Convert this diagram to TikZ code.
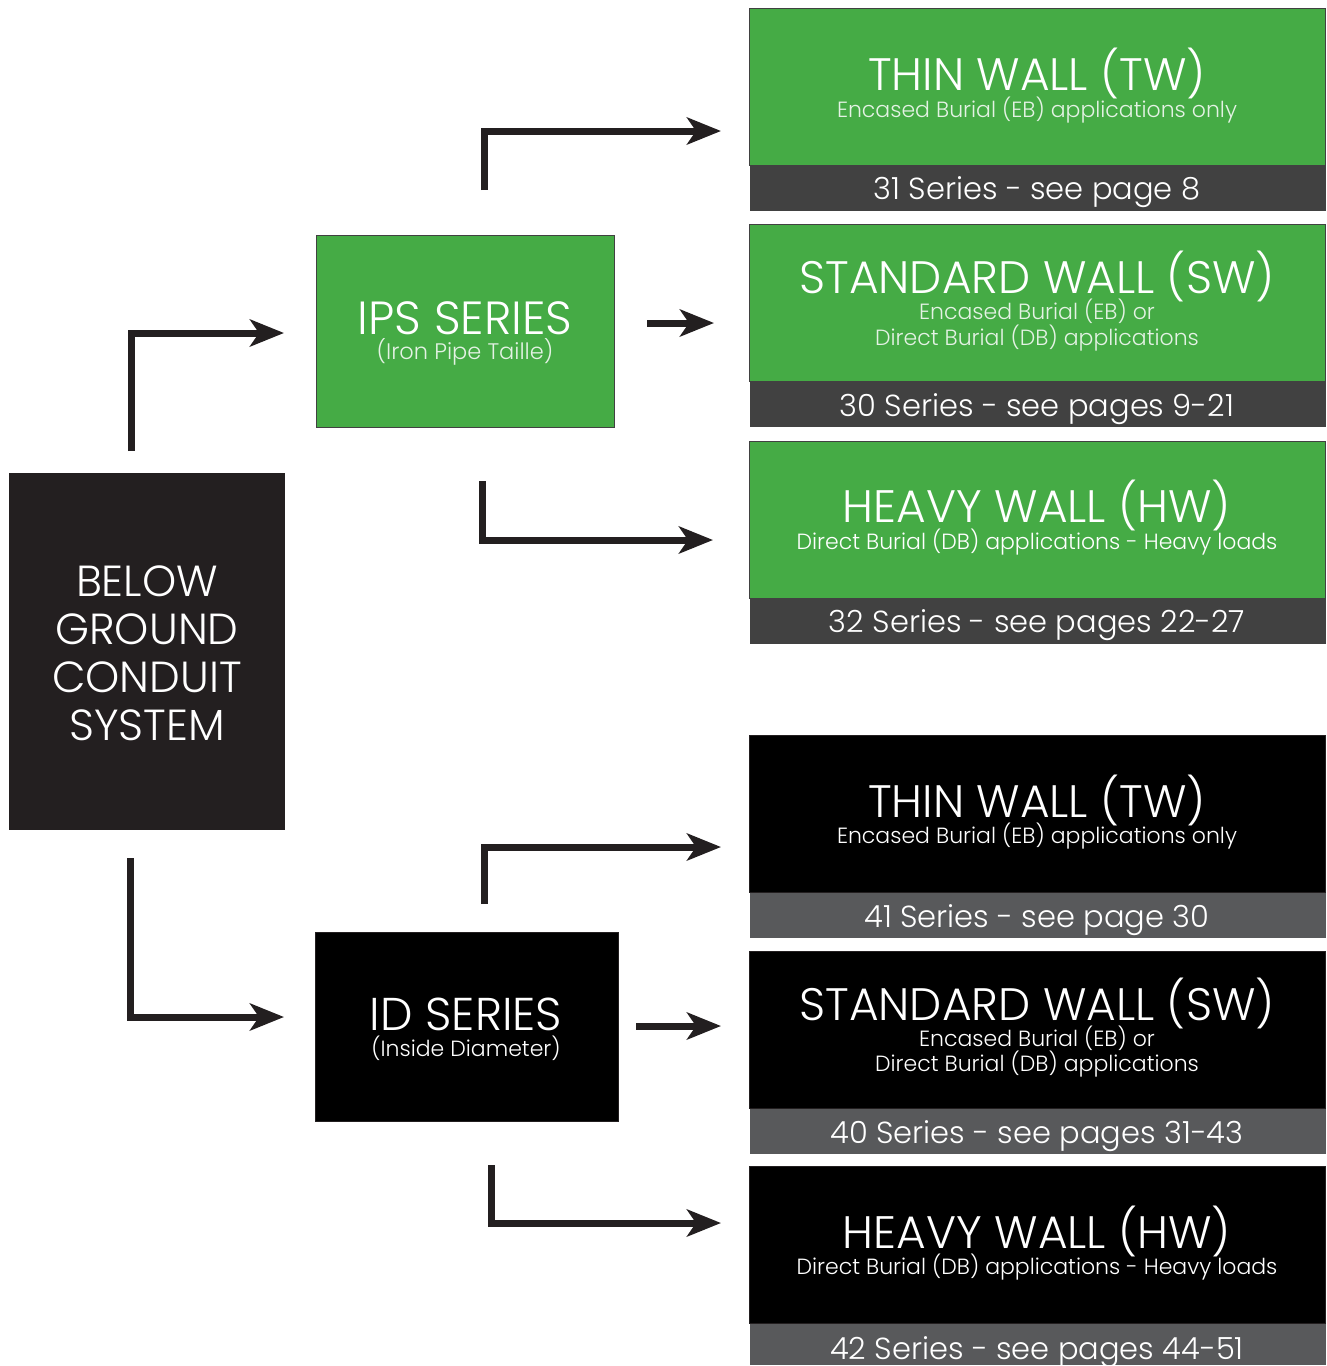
\documentclass[tikz,border=0pt]{standalone}
\usepackage{fontspec}
\setmainfont{Poppins Light}
\usetikzlibrary{arrows.meta,positioning}
\definecolor{pgreen}{HTML}{45AB45}
\definecolor{gband}{HTML}{414141}
\definecolor{kband}{HTML}{58595B}
\definecolor{ink}{HTML}{231F20}
\definecolor{subg}{HTML}{E4F2E4}
\tikzset{
  x=1pt, y=-1pt,
  box/.style={anchor=north west, minimum width=576pt, minimum height=157pt, inner sep=0pt},
  gbox/.style={box, fill=pgreen, draw=gband, line width=1pt},
  kbox/.style={box, fill=black, draw=ink, line width=1pt},
  band/.style={anchor=north, minimum width=576pt, minimum height=45pt, inner sep=0pt, outer sep=0pt},
  txt/.style={anchor=base, inner sep=0pt, text=white},
  ttl/.style={txt, font=\fontsize{45.5}{46}\selectfont},
  sbt/.style={txt, font=\fontsize{22}{24}\selectfont},
  bnd/.style={txt, font=\fontsize{30.5}{32}\selectfont},
  big/.style={txt, font=\fontsize{43.5}{46}\selectfont},
  arr/.style={draw=ink, line width=7pt, -{Stealth[length=34pt,width=27pt,inset=9pt]}, miter limit=10},
  mid/.style={anchor=north west, inner sep=0pt}
}
\begin{document}
\begin{tikzpicture}
\useasboundingbox (0,0) rectangle (1327,1366);
% main box
\node[mid, fill=ink, minimum width=276pt, minimum height=357pt] (bgc) at (9,473) {};
\node[big] (bgc1) at (147,596) {BELOW};
\node[big] (bgc2) at (147,644) {GROUND};
\node[big] (bgc3) at (147,692) {CONDUIT};
\node[big] (bgc4) at (147,740) {SYSTEM};
% series boxes
\node[mid, fill=pgreen, draw=gband, line width=1pt, minimum width=298pt, minimum height=192pt] (ips) at (316,235) {};
\node[ttl, font=\fontsize{46.5}{46}\selectfont] (ipst) at (465,334) {IPS SERIES};
\node[sbt, text=subg, font=\fontsize{22.5}{24}\selectfont] (ipss) at (465,359) {(Iron Pipe Taille)};
\node[mid, fill=black, draw=ink, line width=1pt, minimum width=303pt, minimum height=189pt] (ids) at (315,932) {};
\node[ttl, font=\fontsize{46}{46}\selectfont] (idst) at (466,1030) {ID SERIES};
\node[sbt] (idss) at (466,1056) {(Inside Diameter)};
% IPS products
\node[gbox] (tw1) at (749,8) {};
\node[ttl] (tw1t) at (1037,90) {THIN WALL (TW)};
\node[sbt, text=subg] (tw1s) at (1037,117) {Encased Burial (EB) applications only};
\node[band, fill=gband, below=0pt of tw1] (tw1b) {};
\node[bnd] (tw1bt) at (1037,199) {31 Series - see page 8};
\node[gbox] (sw1) at (749,224) {};
\node[ttl] (sw1t) at (1037,293) {STANDARD WALL (SW)};
\node[sbt, text=subg] (sw1s) at (1037,319) {Encased Burial (EB) or};
\node[sbt, text=subg] (sw1u) at (1037,345) {Direct Burial (DB) applications};
\node[band, fill=gband, below=0pt of sw1] (sw1b) {};
\node[bnd] (sw1bt) at (1037,416) {30 Series - see pages 9-21};
\node[gbox] (hw1) at (749,441) {};
\node[ttl] (hw1t) at (1037,522) {HEAVY WALL (HW)};
\node[sbt] (hw1s) at (1037,549) {Direct Burial (DB) applications - Heavy loads};
\node[band, fill=gband, below=0pt of hw1] (hw1b) {};
\node[bnd] (hw1bt) at (1037,632) {32 Series - see pages 22-27};
% ID products
\node[kbox] (tw2) at (749,735) {};
\node[ttl] (tw2t) at (1037,817) {THIN WALL (TW)};
\node[sbt] (tw2s) at (1037,843) {Encased Burial (EB) applications only};
\node[band, fill=kband, below=0pt of tw2] (tw2b) {};
\node[bnd] (tw2bt) at (1037,927) {41 Series - see page 30};
\node[kbox] (sw2) at (749,951) {};
\node[ttl] (sw2t) at (1037,1020) {STANDARD WALL (SW)};
\node[sbt] (sw2s) at (1037,1046) {Encased Burial (EB) or};
\node[sbt] (sw2u) at (1037,1071) {Direct Burial (DB) applications};
\node[band, fill=kband, below=0pt of sw2] (sw2b) {};
\node[bnd] (sw2bt) at (1037,1143) {40 Series - see pages 31-43};
\node[kbox] (hw2) at (749,1166) {};
\node[ttl] (hw2t) at (1037,1248) {HEAVY WALL (HW)};
\node[sbt] (hw2s) at (1037,1274) {Direct Burial (DB) applications - Heavy loads};
\node[band, fill=kband, below=0pt of hw2, minimum height=41pt] (hw2b) {};
\node[bnd] (hw2bt) at (1037,1359) {42 Series - see pages 44-51};
% connector ends
\coordinate (a1s) at (131,451); \coordinate (a1e) at (284,333);
\coordinate (a2s) at (130,858); \coordinate (a2e) at (284,1017);
\coordinate (b1s) at (484,190); \coordinate (b1e) at (721,131);
\coordinate (b2s) at (647,323); \coordinate (b2e) at (714,323);
\coordinate (b3s) at (482,481); \coordinate (b3e) at (713,540);
\coordinate (c1s) at (484,904); \coordinate (c1e) at (721,847);
\coordinate (c2s) at (636,1026); \coordinate (c2e) at (721,1026);
\coordinate (c3s) at (491,1165); \coordinate (c3e) at (721,1223);
\draw[arr] (a1s) |- (a1e);
\draw[arr] (a2s) |- (a2e);
\draw[arr] (b1s) |- (b1e);
\draw[arr] (b2s) -- (b2e);
\draw[arr] (b3s) |- (b3e);
\draw[arr] (c1s) |- (c1e);
\draw[arr] (c2s) -- (c2e);
\draw[arr] (c3s) |- (c3e);
\end{tikzpicture}
\end{document}
